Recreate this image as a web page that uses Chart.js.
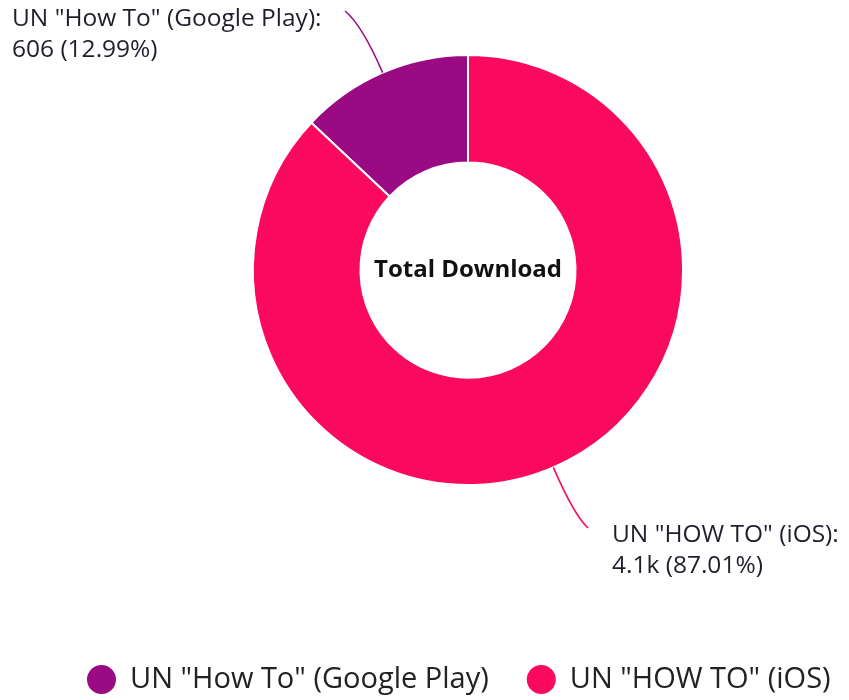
<!DOCTYPE html>
<html>
<head>
<meta charset="utf-8">
<script src="https://cdn.jsdelivr.net/npm/chart.js@4.4.0/dist/chart.umd.min.js"></script>
<style>
  html, body { margin: 0; padding: 0; background: #fff; overflow: hidden; }
  #frame { width: 849px; height: 700px; overflow: hidden; }
  #wrap { width: 887px; height: 700px; position: relative; }
</style>
</head>
<body>
<div id="frame"><div id="wrap"><canvas id="chart1"></canvas></div></div>
<script>
const labels = ['UN "How To" (Google Play)', 'UN "HOW TO" (iOS)'];
const downloads = [606, 4059];
const colors = ['#9a0a82', '#fa0a5e'];
const centerText = 'Total Download';

const FONT = '"Open Sans", Lato, sans-serif';
const total = downloads.reduce((a, b) => a + b, 0);

function fmt(v) {
  return v >= 1000 ? (v / 1000).toFixed(1) + 'k' : String(v);
}

// where each leader line ends and where its text sits
const labelLayout = [
  { end: [345, 11], textX: 12, textY: 19 },
  { end: [588, 528], textX: 612, textY: 535 }
];

const calloutPlugin = {
  id: 'callouts',
  afterDatasetsDraw(chart) {
    const ctx = chart.ctx;
    const meta = chart.getDatasetMeta(0);
    meta.data.forEach((arc, i) => {
      const p = arc.getProps(['x', 'y', 'startAngle', 'endAngle', 'outerRadius'], true);
      const mid = (p.startAngle + p.endAngle) / 2;
      const x0 = p.x + Math.cos(mid) * p.outerRadius;
      const y0 = p.y + Math.sin(mid) * p.outerRadius;
      const cx = p.x + Math.cos(mid) * (p.outerRadius + 52);
      const cy = p.y + Math.sin(mid) * (p.outerRadius + 52);
      const lay = labelLayout[i];
      ctx.save();
      ctx.strokeStyle = colors[i];
      ctx.lineWidth = 1.6;
      ctx.beginPath();
      ctx.moveTo(x0, y0);
      ctx.quadraticCurveTo(cx, cy, lay.end[0], lay.end[1]);
      ctx.stroke();

      const pct = (downloads[i] / total * 100).toFixed(2) + '%';
      ctx.fillStyle = '#1f1f2b';
      ctx.font = '24.5px ' + FONT;
      ctx.textAlign = 'left';
      ctx.textBaseline = 'middle';
      ctx.fillText(labels[i] + ':', lay.textX, lay.textY);
      ctx.fillText(fmt(downloads[i]) + ' (' + pct + ')', lay.textX, lay.textY + 31);
      ctx.restore();
    });

    const c = meta.data[0];
    ctx.save();
    ctx.fillStyle = '#111';
    ctx.font = 'bold 24px ' + FONT;
    ctx.textAlign = 'center';
    ctx.textBaseline = 'middle';
    ctx.fillText(centerText, c.x, c.y);
    ctx.restore();
  }
};

new Chart(document.getElementById('chart1'), {
  type: 'doughnut',
  data: {
    labels,
    datasets: [{
      data: downloads,
      backgroundColor: colors,
      borderColor: '#ffffff',
      borderWidth: 2,
      hoverOffset: 0
    }]
  },
  options: {
    responsive: true,
    maintainAspectRatio: false,
    animation: false,
    cutout: '50%',
    rotation: -downloads[0] / total * 360,
    layout: { padding: { top: 54, left: 49, right: 0, bottom: -4 } },
    plugins: {
      tooltip: { enabled: false },
      legend: {
        position: 'bottom',
        align: 'start',
        title: { display: true, text: '', padding: { top: 126 } },
        labels: {
          usePointStyle: true,
          pointStyle: 'circle',
          boxWidth: 28,
          boxHeight: 20.5,
          padding: 38.5,
          color: '#222',
          font: { family: FONT, size: 29 },
          generateLabels(chart) {
            return labels.map((t, i) => ({
              text: t,
              fillStyle: colors[i],
              strokeStyle: colors[i],
              fontColor: '#222',
              lineWidth: 0,
              pointStyle: 'circle',
              hidden: false,
              index: i
            }));
          }
        }
      }
    }
  },
  plugins: [calloutPlugin]
});
</script>
</body>
</html>
